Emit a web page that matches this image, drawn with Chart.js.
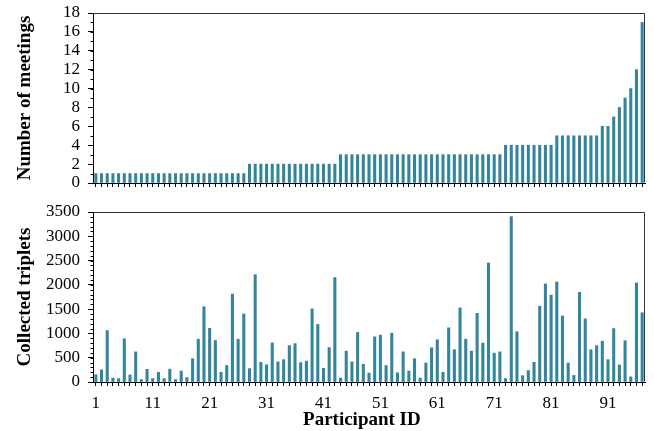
<!DOCTYPE html>
<html>
<head>
<meta charset="utf-8">
<script src="https://cdn.jsdelivr.net/npm/chart.js@4"></script>
<style>
  html, body { margin: 0; padding: 0; background: #fff; }
  #wrap { position: relative; width: 654px; height: 431px; overflow: hidden; }
  #c1 { position: absolute; left: 0; top: 0; }
  #c2 { position: absolute; left: 0; top: 200px; }
</style>
</head>
<body>
<div id="wrap">
  <canvas id="c1" width="654" height="200"></canvas>
  <canvas id="c2" width="654" height="231"></canvas>
</div>
<script>
// ---- data ----
const participants = [1,2,3,4,5,6,7,8,9,10,11,12,13,14,15,16,17,18,19,20,21,22,23,24,25,26,27,28,29,30,31,32,33,34,35,36,37,38,39,40,41,42,43,44,45,46,47,48,49,50,51,52,53,54,55,56,57,58,59,60,61,62,63,64,65,66,67,68,69,70,71,72,73,74,75,76,77,78,79,80,81,82,83,84,85,86,87,88,89,90,91,92,93,94,95,96,97];
const meetings = [1,1,1,1,1,1,1,1,1,1,1,1,1,1,1,1,1,1,1,1,1,1,1,1,1,1,1,
                  2,2,2,2,2,2,2,2,2,2,2,2,2,2,2,2,
                  3,3,3,3,3,3,3,3,3,3,3,3,3,3,3,3,3,3,3,3,3,3,3,3,3,3,3,3,3,
                  4,4,4,4,4,4,4,4,4,
                  5,5,5,5,5,5,5,5,
                  6,6,7,8,9,10,12,17];
const triplets = [150,250,1060,80,70,890,145,620,50,260,
                  70,200,70,265,50,225,90,480,880,1550,
                  1105,855,200,340,1810,880,1400,275,2210,405,
                  355,805,415,460,750,790,400,430,1505,1185,
                  280,710,2150,80,635,415,1020,365,185,930,
                  965,340,1005,190,620,225,480,80,390,705,
                  870,200,1115,665,1525,880,635,1415,800,2450,
                  595,620,70,3405,1035,130,235,405,1560,2020,
                  1790,2060,1360,390,135,1845,1300,665,750,840,
                  460,1100,350,850,105,2040,1425];
const xTickLabels = ['1','11','21','31','41','51','61','71','81','91'];
const yTicksMeetings = [0,2,4,6,8,10,12,14,16,18];
const yTicksTriplets = [0,500,1000,1500,2000,2500,3000,3500];

// ---- style ----
const BAR = '#31859C';
const FONT = 'Liberation Serif, Times New Roman, serif';
const tickFont = { family: FONT, size: 17 };
const titleFont = { family: FONT, size: 19, weight: 'bold' };

const framePlugin = {
  id: 'frame',
  afterDraw(chart, args, opts) {
    const { ctx, chartArea: a } = chart;
    const ys = chart.scales.y;
    ctx.save();
    ctx.strokeStyle = '#333';
    ctx.lineWidth = 1;
    const L = Math.round(a.left) + 0.5, R = Math.round(a.right) - 0.5;
    const T = Math.round(a.top) + 0.5, B = Math.round(a.bottom) - 0.5;
    ctx.beginPath();
    ctx.moveTo(L, T); ctx.lineTo(R, T); ctx.lineTo(R, B);
    ctx.stroke();
    // minor ticks on y axis
    ctx.strokeStyle = '#000';
    ctx.beginPath();
    for (let v = ys.min; v <= ys.max + 1e-9; v += opts.minor) {
      const p = Math.round(ys.getPixelForValue(v)) + 0.5;
      ctx.moveTo(L - 3, p); ctx.lineTo(L, p);
    }
    ctx.stroke();
    ctx.restore();
  }
};

function makeChart(canvas, values, yMax, yStep, yTicks, minor, yTitle, showX, padTop, xHeight) {
  return new Chart(canvas, {
    type: 'bar',
    data: {
      labels: participants,
      datasets: [{ data: values, backgroundColor: BAR, borderWidth: 0, barThickness: 2.4 }]
    },
    plugins: [framePlugin],
    options: {
      responsive: false,
      animation: false,
      devicePixelRatio: 1,
      layout: { padding: { top: padTop, right: 9, bottom: 0, left: 0 } },
      plugins: { legend: { display: false }, tooltip: { enabled: false }, frame: { minor: minor } },
      scales: {
        x: {
          type: 'category',
          offset: true,
          grid: { offset: false, drawOnChartArea: false, drawTicks: true, tickLength: 4, color: '#000', lineWidth: 1 },
          border: { display: true, color: '#000', width: 1 },
          ticks: {
            autoSkip: false, maxRotation: 0, minRotation: 0, padding: 7.5,
            font: tickFont, color: '#000',
            callback: function (val, idx) {
              const lab = String(participants[idx]);
              return showX && xTickLabels.includes(lab) ? lab : '';
            }
          },
          title: showX ? { display: true, text: 'Participant ID   ', font: titleFont, color: '#000', padding: { top: 0, bottom: -0.5 } } : { display: false },
          afterFit: function (s) { s.height = xHeight; s.paddingLeft = 0; s.paddingRight = 0; }
        },
        y: {
          min: 0, max: yMax,
          grid: { drawOnChartArea: false, drawTicks: true, tickLength: 5, color: '#000', lineWidth: 1 },
          border: { display: true, color: '#000', width: 1 },
          ticks: {
            autoSkip: false,
            stepSize: yStep, padding: 8, font: tickFont, color: '#000',
            callback: function (v) { return yTicks.includes(v) ? String(v) : ''; }
          },
          title: { display: true, text: yTitle, font: titleFont, color: '#000', padding: { top: 14, bottom: 0 } },
          afterFit: function (s) { s.width = 93; s.paddingTop = 0; s.paddingBottom = 0; }
        }
      }
    }
  });
}

makeChart(document.getElementById('c1'), meetings, 18, 2, yTicksMeetings, 1, 'Number of meetings', false, 13, 17);
makeChart(document.getElementById('c2'), triplets, 3500, 500, yTicksTriplets, 100, 'Collected triplets', true, 12, 49);
</script>
</body>
</html>
